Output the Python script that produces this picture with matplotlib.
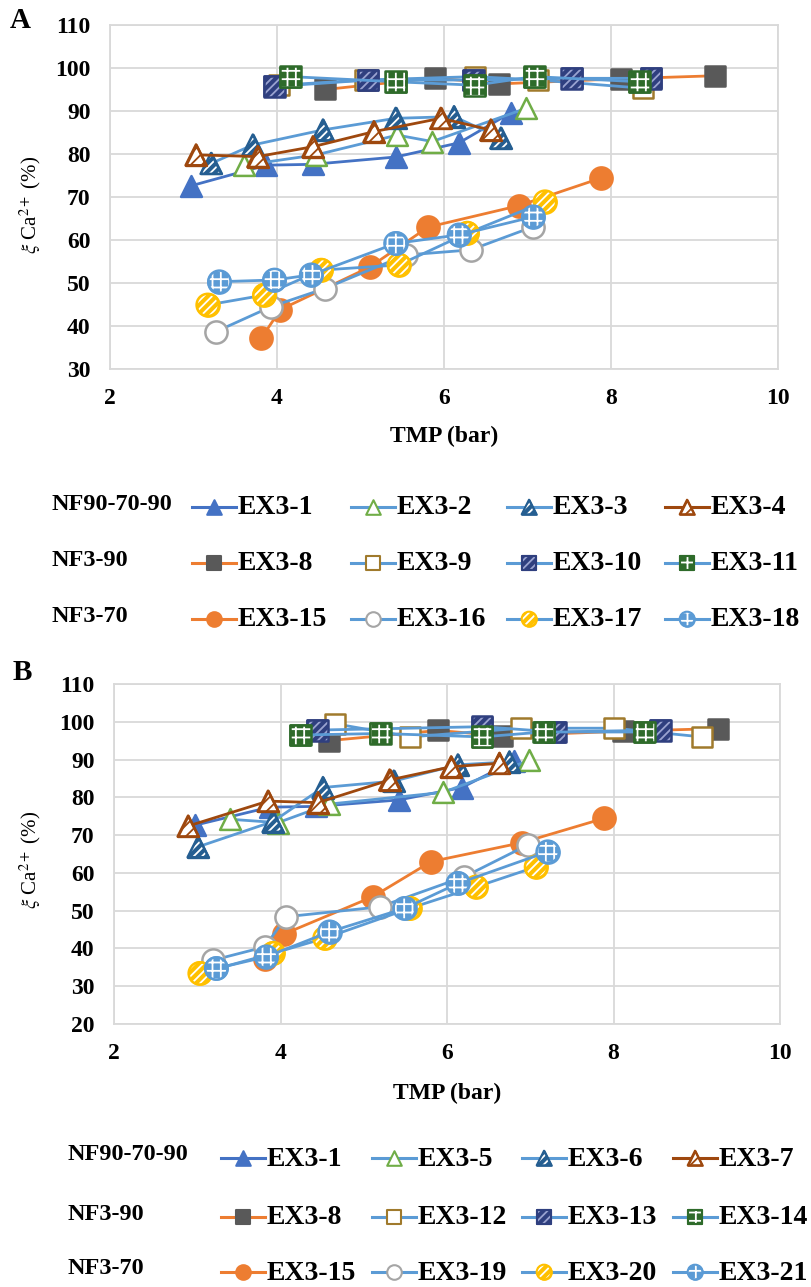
import matplotlib
matplotlib.use("Agg")
import matplotlib.pyplot as plt

plt.rcParams['font.family'] = ['Liberation Serif', 'DejaVu Serif']
plt.rcParams['mathtext.fontset'] = 'stix'
plt.rcParams['hatch.linewidth'] = 1.3

# ---------------- data (TMP in bar, xi Ca2+ in %) ----------------
# shared experiments (appear in both panels)
ex3_1_x = [2.97, 3.87, 4.43, 5.42, 6.18, 6.80]
ex3_1_y = [72.6, 77.4, 77.6, 79.3, 82.6, 89.6]
ex3_8_x = [4.58, 5.89, 6.66, 8.12, 9.25]
ex3_8_y = [95.0, 97.7, 96.3, 97.5, 98.2]
ex3_15_x = [3.81, 4.04, 5.11, 5.81, 6.90, 7.88]
ex3_15_y = [37.1, 43.8, 53.7, 63.0, 68.0, 74.4]

# panel A
ex3_2_x = [3.61, 4.47, 5.44, 5.86, 6.98]
ex3_2_y = [77.4, 79.8, 84.4, 82.9, 90.6]
ex3_3_x = [3.21, 3.71, 4.55, 5.42, 6.12, 6.68]
ex3_3_y = [77.8, 82.1, 85.6, 88.3, 88.7, 83.7]
ex3_4_x = [3.03, 3.77, 4.43, 5.16, 5.96, 6.56]
ex3_4_y = [79.8, 79.4, 81.7, 85.2, 88.3, 85.6]
ex3_9_x = [4.02, 5.05, 6.37, 7.13, 8.38]
ex3_9_y = [96.0, 97.2, 98.0, 97.2, 95.3]
ex3_10_x = [3.97, 5.09, 6.35, 7.53, 8.48]
ex3_10_y = [95.7, 97.2, 97.2, 97.6, 97.6]
ex3_11_x = [4.16, 5.42, 6.37, 7.08, 8.34]
ex3_11_y = [98.0, 96.8, 96.0, 98.0, 96.8]
ex3_16_x = [3.27, 3.93, 4.57, 5.54, 6.32, 7.07]
ex3_16_y = [38.7, 44.5, 48.7, 56.5, 57.7, 63.1]
ex3_17_x = [3.17, 3.85, 4.53, 5.46, 6.28, 7.21]
ex3_17_y = [44.9, 47.2, 53.0, 54.2, 61.6, 68.9]
ex3_18_x = [3.31, 3.97, 4.41, 5.42, 6.18, 7.07]
ex3_18_y = [50.3, 50.7, 51.9, 59.2, 61.2, 65.4]

# panel B
ex3_5_x = [3.39, 3.97, 4.58, 5.95, 6.99]
ex3_5_y = [74.2, 73.3, 78.2, 81.3, 89.8]
ex3_6_x = [3.01, 3.91, 4.51, 5.36, 6.13, 6.75]
ex3_6_y = [66.9, 73.6, 82.6, 84.3, 88.6, 89.4]
ex3_7_x = [2.89, 3.85, 4.45, 5.31, 6.05, 6.63]
ex3_7_y = [72.4, 79.0, 78.6, 84.6, 88.1, 89.0]
ex3_12_x = [4.65, 5.56, 6.89, 8.01, 9.06]
ex3_12_y = [99.5, 96.0, 98.3, 98.3, 96.0]
ex3_13_x = [4.44, 6.42, 7.30, 8.56]
ex3_13_y = [97.8, 98.7, 97.3, 97.8]
ex3_14_x = [4.24, 5.20, 6.42, 7.16, 8.37]
ex3_14_y = [96.5, 96.9, 96.0, 97.3, 97.3]
ex3_19_x = [3.19, 3.81, 4.07, 5.19, 6.21, 6.97]
ex3_19_y = [36.9, 40.4, 48.4, 51.0, 59.0, 67.4]
ex3_20_x = [3.03, 3.91, 4.53, 5.55, 6.35, 7.07]
ex3_20_y = [33.4, 38.7, 42.7, 50.6, 56.3, 61.6]
ex3_21_x = [3.23, 3.83, 4.59, 5.49, 6.13, 7.21]
ex3_21_y = [34.7, 37.8, 44.4, 50.6, 57.2, 65.6]

x_ticks = [2, 4, 6, 8, 10]
y_ticks_a = [30, 40, 50, 60, 70, 80, 90, 100, 110]
y_ticks_b = [20, 30, 40, 50, 60, 70, 80, 90, 100, 110]
group_labels = ["NF90-70-90", "NF3-90", "NF3-70"]

# ---------------- styles ----------------
BLUE = '#4472C4'
LBLUE = '#5B9BD5'
ORANGE = '#ED7D31'
BROWN = '#9E480E'
# (line colour, marker, face, edge, hatch, hatch colour)
STY = {
    'EX3-1': (BLUE, '^', BLUE, BLUE, None, None),
    'EX3-2': (LBLUE, '^', 'white', '#70AD47', None, None),
    'EX3-5': (LBLUE, '^', 'white', '#70AD47', None, None),
    'EX3-3': (LBLUE, '^', '#255E91', '#255E91', '////', 'white'),
    'EX3-6': (LBLUE, '^', '#255E91', '#255E91', '////', 'white'),
    'EX3-4': (BROWN, '^', 'white', BROWN, '///', BROWN),
    'EX3-7': (BROWN, '^', 'white', BROWN, '///', BROWN),
    'EX3-8': (ORANGE, 's', '#595959', '#595959', None, None),
    'EX3-9': (LBLUE, 's', 'white', '#A07A2C', None, None),
    'EX3-12': (LBLUE, 's', 'white', '#A07A2C', None, None),
    'EX3-10': (LBLUE, 's', '#2F3F7F', '#2F3F7F', '////', '#9AA3D0'),
    'EX3-13': (LBLUE, 's', '#2F3F7F', '#2F3F7F', '////', '#9AA3D0'),
    'EX3-11': (LBLUE, 's', '#2E6B2A', '#2E6B2A', '++', 'white'),
    'EX3-14': (LBLUE, 's', '#2E6B2A', '#2E6B2A', '++', 'white'),
    'EX3-15': (ORANGE, 'o', ORANGE, ORANGE, None, None),
    'EX3-16': (LBLUE, 'o', 'white', '#A5A5A5', None, None),
    'EX3-19': (LBLUE, 'o', 'white', '#A5A5A5', None, None),
    'EX3-17': (LBLUE, 'o', '#FFC000', '#FFC000', '////', 'white'),
    'EX3-20': (LBLUE, 'o', '#FFC000', '#FFC000', '////', 'white'),
    'EX3-18': (LBLUE, 'o', LBLUE, LBLUE, '++', 'white'),
    'EX3-21': (LBLUE, 'o', LBLUE, LBLUE, '++', 'white'),
}
MSIZE = {'^': 15, 's': 15, 'o': 16}


def draw_marker(ax, x, y, name, ms, z, ew=1.8):
    lc, m, face, edge, hatch, hcol = STY[name]
    s = ms ** 2
    ax.scatter(x, y, marker=m, s=s, facecolor=face, edgecolor=edge,
               linewidth=ew, zorder=z + 0.1)
    if hatch:
        ax.scatter(x, y, marker=m, s=s, facecolor='none', edgecolor=hcol,
                   linewidth=0, hatch=hatch, zorder=z + 0.2)
        ax.scatter(x, y, marker=m, s=s, facecolor='none', edgecolor=edge,
                   linewidth=ew, zorder=z + 0.3)


def draw_series(ax, x, y, name, z):
    lc = STY[name][0]
    m = STY[name][1]
    ax.plot(x, y, color=lc, lw=2.0, zorder=z, solid_joinstyle='round')
    draw_marker(ax, x, y, name, MSIZE[m], z)


fig = plt.figure(figsize=(8.11, 12.87), dpi=100)
W, H = 811.0, 1287.0


def add_ax(l, r, t, b):
    return fig.add_axes([l / W, 1 - b / H, (r - l) / W, (b - t) / H])


axA = add_ax(110, 778, 25, 369)
axB = add_ax(114, 780, 684, 1024)

seriesA = [('EX3-1', ex3_1_x, ex3_1_y), ('EX3-2', ex3_2_x, ex3_2_y),
           ('EX3-3', ex3_3_x, ex3_3_y), ('EX3-4', ex3_4_x, ex3_4_y),
           ('EX3-8', ex3_8_x, ex3_8_y), ('EX3-9', ex3_9_x, ex3_9_y),
           ('EX3-10', ex3_10_x, ex3_10_y), ('EX3-11', ex3_11_x, ex3_11_y),
           ('EX3-15', ex3_15_x, ex3_15_y), ('EX3-16', ex3_16_x, ex3_16_y),
           ('EX3-17', ex3_17_x, ex3_17_y), ('EX3-18', ex3_18_x, ex3_18_y)]
seriesB = [('EX3-1', ex3_1_x, ex3_1_y), ('EX3-5', ex3_5_x, ex3_5_y),
           ('EX3-6', ex3_6_x, ex3_6_y), ('EX3-7', ex3_7_x, ex3_7_y),
           ('EX3-8', ex3_8_x, ex3_8_y), ('EX3-12', ex3_12_x, ex3_12_y),
           ('EX3-13', ex3_13_x, ex3_13_y), ('EX3-14', ex3_14_x, ex3_14_y),
           ('EX3-15', ex3_15_x, ex3_15_y), ('EX3-19', ex3_19_x, ex3_19_y),
           ('EX3-20', ex3_20_x, ex3_20_y), ('EX3-21', ex3_21_x, ex3_21_y)]

TICKFONT = dict(fontsize=17, fontweight='bold')
for ax, series, yt in [(axA, seriesA, y_ticks_a), (axB, seriesB, y_ticks_b)]:
    for i, (name, x, y) in enumerate(series):
        draw_series(ax, x, y, name, 3 + i)
    ax.set_xlim(x_ticks[0], x_ticks[-1])
    ax.set_ylim(yt[0], yt[-1])
    ax.set_xticks(x_ticks)
    ax.set_yticks(yt)
    ax.set_xticklabels([str(v) for v in x_ticks], **TICKFONT)
    ax.set_yticklabels([str(v) for v in yt], **TICKFONT)
    ax.tick_params(length=0, pad=14)
    ax.grid(True, color='#D9D9D9', lw=1.3, zorder=0)
    ax.set_axisbelow(True)
    for sp in ax.spines.values():
        sp.set_color('#D9D9D9')
        sp.set_linewidth(1.3)

# overlay for texts and legends (pixel coordinates, y downward)
ov = fig.add_axes([0, 0, 1, 1], facecolor='none')
ov.set_xlim(0, W)
ov.set_ylim(H, 0)
ov.axis('off')

ov.text(20, 20, 'A', fontsize=21, fontweight='bold', ha='center', va='center')
ov.text(22, 673, 'B', fontsize=21, fontweight='bold', ha='center', va='center')
ylab = r'$\xi$ Ca$^{2+}$ (%)'
ov.text(30, 205, ylab, fontsize=15, rotation=90, ha='center', va='center')
ov.text(30, 860, ylab, fontsize=15, rotation=90, ha='center', va='center')
ov.text(444, 436, 'TMP (bar)', fontsize=17, fontweight='bold', ha='center', va='center')
ov.text(447, 1093, 'TMP (bar)', fontsize=17, fontweight='bold', ha='center', va='center')

legA = [['EX3-1', 'EX3-2', 'EX3-3', 'EX3-4'],
        ['EX3-8', 'EX3-9', 'EX3-10', 'EX3-11'],
        ['EX3-15', 'EX3-16', 'EX3-17', 'EX3-18']]
legB = [['EX3-1', 'EX3-5', 'EX3-6', 'EX3-7'],
        ['EX3-8', 'EX3-12', 'EX3-13', 'EX3-14'],
        ['EX3-15', 'EX3-19', 'EX3-20', 'EX3-21']]


def draw_legend(rows, row_y, label_x, col_x):
    for r, (glab, names) in enumerate(zip(group_labels, rows)):
        y = row_y[r]
        ov.text(label_x, y - 3, glab, fontsize=17.5, fontweight='bold',
                ha='left', va='center')
        for c, name in enumerate(names):
            x0 = col_x[c]
            lc = STY[name][0]
            ov.plot([x0, x0 + 44], [y, y], color=lc, lw=2.2, zorder=2)
            draw_marker(ov, [x0 + 22], [y], name, 10.5, 3, ew=1.5)
            ov.text(x0 + 46, y + 1, name, fontsize=20, fontweight='bold',
                    ha='left', va='center')


draw_legend(legA, [507, 563, 619], 52, [192, 351, 507, 665])
draw_legend(legB, [1158, 1217, 1272], 68, [221, 372, 522, 673])

fig.savefig('out.png', dpi=100)
